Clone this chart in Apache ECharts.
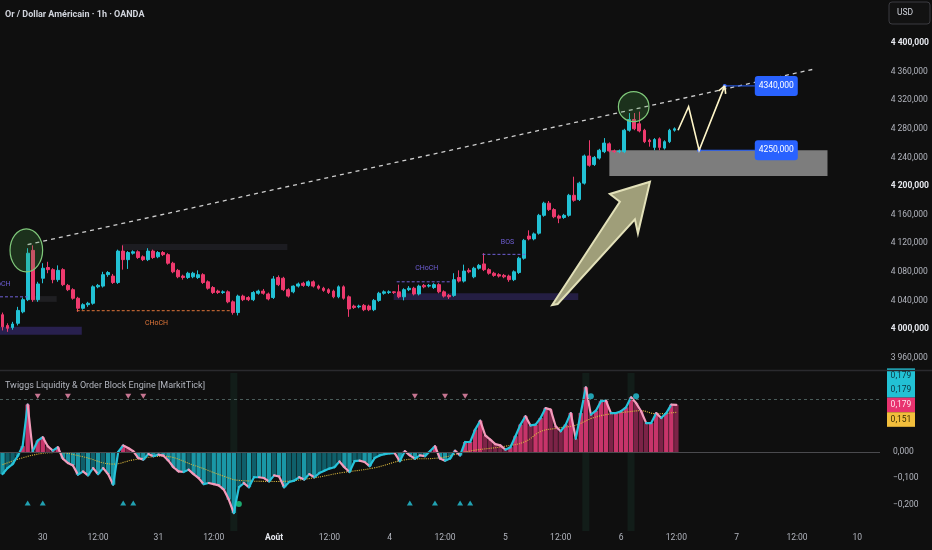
<!DOCTYPE html>
<html><head><meta charset="utf-8">
<script src="https://cdn.jsdelivr.net/npm/echarts/dist/echarts.min.js"></script>
<style>html,body{margin:0;padding:0;background:#0f0f0f;}#c{width:932px;height:550px;}</style>
</head><body><div id="c"></div>
<script>
// ---------- data ----------
const slotCount = 175;
const tickIndex = [8,19,31,42,54,65,77,88,100,111,123,134,146,158,170];
const tickText = ['30','12:00','31','12:00','Août','12:00','4','12:00','5','12:00','6','12:00','7','12:00','10'];

const opens = [4020,4005,4002,4008,4024,4041,4110,4041,4071,4086, 4083,4069,4083,4061,4055,4043,4029,4034,4036,4059,
 4060,4076,4074,4065,4109,4097,4106,4108,4101,4097, 4109,4101,4107,4104,4092,4082,4074,4072,4073,4072,
 4076,4066,4058,4053,4051,4052,4038,4023,4046,4044, 4041,4050,4053,4049,4044,4072,4071,4055,4052,4060,
 4064,4061,4066,4060,4057,4055,4053,4045,4059,4045, 4032,4031,4033,4032,4027,4040,4050,4051,4052,4052,
 4045,4055,4057,4049,4061,4060,4058,4062,4052,4047, 4047,4072,4067,4082,4073,4085,4091,4083,4078,4076,
 4075,4074,4069,4079,4099,4130,4126,4134,4159,4176, 4167,4158,4156,4159,4187,4181,4204,4242,4230,4239,
 4248,4259,4249,4248,4248,4278,4293,4287,4278,4264, 4254,4266,4253,4262,4278];
const closes = [4003,4001,4007,4026,4041,4106,4041,4063,4085,4083, 4069,4082,4062,4055,4043,4029,4034,4036,4059,4061,
 4076,4079,4065,4109,4097,4107,4108,4100,4097,4109, 4100,4107,4104,4092,4080,4073,4072,4078,4078,4076,
 4065,4057,4051,4051,4052,4038,4023,4046,4041,4041, 4051,4053,4050,4042,4070,4062,4055,4046,4060,4063,
 4061,4066,4060,4057,4054,4051,4045,4059,4043,4028, 4030,4032,4027,4027,4040,4050,4052,4052,4051,4045,
 4055,4057,4049,4060,4059,4061,4062,4052,4046,4045, 4069,4067,4081,4080,4085,4089,4083,4078,4075,4074,
 4073,4069,4080,4099,4124,4126,4133,4159,4176,4167, 4157,4155,4159,4187,4180,4204,4242,4229,4240,4250,
 4260,4249,4248,4249,4278,4293,4280,4277,4262,4262, 4265,4254,4262,4278,4280];
const lows = [3998,3996,3999,4005,4022,4039,4038,4038,4064,4078, 4064,4066,4060,4053,4041,4024,4027,4031,4034,4057,
 4058,4073,4063,4063,4083,4084,4104,4098,4095,4095, 4098,4099,4102,4090,4078,4071,4069,4070,4071,4070,
 4063,4055,4049,4049,4049,4036,4020,4019,4039,4039, 4039,4048,4048,4040,4042,4060,4053,4044,4050,4058,
 4059,4059,4058,4055,4052,4049,4043,4043,4041,4017, 4028,4029,4025,4025,4025,4038,4048,4049,4049,4043,
 4040,4053,4047,4047,4057,4058,4056,4050,4044,4042, 4045,4065,4065,4078,4071,4083,4081,4076,4073,4072,
 4071,4066,4067,4077,4097,4124,4124,4132,4157,4165, 4155,4148,4154,4157,4178,4179,4202,4227,4228,4237,
 4246,4247,4246,4246,4246,4276,4278,4275,4260,4255, 4250,4250,4251,4260,4276];
const highs = [4023,4008,4010,4031,4044,4113,4117,4066,4092,4094, 4085,4089,4085,4063,4057,4045,4036,4038,4061,4063,
 4080,4081,4077,4111,4117,4109,4110,4110,4103,4113, 4111,4109,4109,4106,4094,4084,4076,4080,4080,4082,
 4078,4068,4060,4055,4054,4054,4040,4048,4048,4046, 4053,4055,4056,4051,4074,4075,4073,4057,4061,4065,
 4066,4068,4068,4062,4059,4057,4055,4061,4061,4047, 4034,4034,4035,4034,4042,4052,4054,4054,4053,4062,
 4057,4060,4059,4062,4063,4063,4064,4064,4054,4049, 4078,4082,4090,4085,4087,4091,4106,4085,4080,4078,
 4077,4076,4082,4101,4126,4138,4135,4161,4178,4179, 4169,4160,4161,4189,4213,4206,4244,4264,4242,4252,
 4267,4261,4251,4251,4280,4302,4302,4304,4280,4266, 4267,4268,4264,4280,4282];

const oscillator = [-0.084,-0.061,-0.046,-0.016,0.022,0.180,0.003,0.043,0.056,0.022,
 0.005,0.018,-0.025,-0.042,-0.051,-0.086,-0.074,-0.089,-0.061,-0.084,
 -0.061,-0.084,-0.124,0.000,0.025,0.015,0.003,-0.023,-0.029,-0.008,
 -0.016,-0.010,-0.014,-0.033,-0.058,-0.074,-0.076,-0.067,-0.084,-0.099,
 -0.122,-0.118,-0.122,-0.127,-0.143,-0.181,-0.232,-0.134,-0.118,-0.134,
 -0.096,-0.096,-0.099,-0.112,-0.089,-0.093,-0.134,-0.114,-0.109,-0.096,
 -0.105,-0.084,-0.096,-0.080,-0.071,-0.063,-0.058,-0.036,-0.058,-0.076,
 -0.035,-0.033,-0.038,-0.054,-0.023,-0.013,-0.008,-0.005,-0.004,-0.035,
 0.003,-0.013,-0.025,-0.013,-0.016,0.003,0.022,-0.025,-0.033,-0.025,
 0.005,-0.013,0.038,0.038,0.085,0.119,0.063,0.047,0.030,0.025,
 0.009,0.018,0.060,0.104,0.136,0.101,0.104,0.129,0.167,0.161,
 0.098,0.079,0.104,0.148,0.051,0.148,0.246,0.142,0.157,0.193,
 0.195,0.148,0.148,0.155,0.170,0.208,0.186,0.155,0.110,0.110,
 0.148,0.129,0.148,0.180,0.179];
const signalPts = [[0,-0.048],[6,-0.012],[11,-0.002],[16,-0.018],[22,-0.046],[26,-0.03],[32,-0.016],[38,-0.05],
 [44,-0.092],[47,-0.108],[55,-0.112],[62,-0.098],[67,-0.08],[74,-0.06],[80,-0.03],[87,-0.022],[93,0.004],
 [100,0.022],[104,0.04],[107,0.078],[110,0.09],[114,0.102],[117,0.127],[120,0.142],[124,0.152],[127,0.157],
 [130,0.145],[134,0.151]];
const sellMarks = [7,13,25,28,82,88,92];
const buyMarks = [5,8,24,26,81,86,91,93];
const topDots = [117,126];
const bottomDots = [47];
const highlightBands = [[45.3,46.7],[115.3,116.7],[124.3,125.7]];
const lastValues = [0.179,0.179,0.179,0.151];

// drawings (bar index, price)
const trendLine = [[5,4118],[161.5,4363]];
const demandZone = [121,164.5,4250,4214];
const obLeft = [-0.5,15.8,4003,3992];
const obMid = [78,114.8,4050,4040.5];
const obTop = [23.8,56.8,4119,4110.5];
const obSmall = [6.1,10.8,4046,4038];
const structLines = [[-0.5,5,4045],[14.8,45.8,4025.6],[78.6,89.6,4066],[95.7,104.5,4104.4]];
const structText = ['CHoCH','CHoCH','CHoCH','BOS'];
const structTextPos = [[1.6,4063],[30.7,4008],[84.6,4085],[100.7,4122]];
const ellipses = [[1.5,8,4140,4080],[122.8,128.9,4332,4290]];
const bigArrow = [[109.6,4033.5],[123.1,4178],[121.1,4188.8],[129.1,4205.9],[126.7,4133.8],[126.1,4153.4],[110.7,4034.9]];
const projection = [[134.7,4278],[136.8,4311],[138.9,4250],[144,4340]];
const targetPrices = [4340,4250];
const targetStart = [144,138.9];
const targetLabelAt = 150;

// ---------- chart ----------
const FONT = 'Roboto, "Noto Sans", sans-serif';
const UP = '#22c1d4', DOWN = '#ee3a6e';
const categories = Array.from({length: slotCount}, (_, i) => String(i));
const candles = opens.map((o, i) => [o, closes[i], lows[i], highs[i]]);
const chart = echarts.init(document.getElementById('c'));

function fmtPrice(v) {
  if (v > 4420) return '';
  const s = Math.round(v);
  const txt = Math.floor(s / 1000) + ' ' + String(s % 1000).padStart(3, '0') + ',000';
  return (s % 200 === 0) ? '{b|' + txt + '}' : txt;
}
function fmtOsc(v) {
  if (v > 0.05 || v < -0.25) return '';
  if (Math.abs(v) < 1e-9) return '0,000';
  return (v < 0 ? '\u2212' : '') + Math.abs(v).toFixed(3).replace('.', ',');
}

const zoneList = [demandZone, obLeft, obMid, obTop, obSmall];
const zoneFill = ['rgba(150,150,150,0.82)','rgba(85,65,190,0.36)','rgba(85,65,190,0.3)','rgba(90,90,115,0.18)','rgba(90,90,105,0.22)'];
const structColor = ['#6f5fd6','#e0763a','#6f5fd6','#6f5fd6'];

function renderZones(params, api) {
  const ch = zoneList.map((z, k) => {
    const a = api.coord([z[0], z[2]]), b = api.coord([z[1], z[3]]);
    return {type:'rect', shape:{x:a[0], y:a[1], width:b[0]-a[0], height:b[1]-a[1]}, style:{fill: zoneFill[k]}};
  });
  return {type:'group', children: ch};
}
function renderStructure(params, api) {
  const ch = [];
  structLines.forEach((l, k) => {
    const a = api.coord([l[0], l[2]]), b = api.coord([l[1], l[2]]);
    ch.push({type:'line', shape:{x1:a[0], y1:a[1], x2:b[0], y2:b[1]}, style:{stroke: structColor[k], lineWidth:1, lineDash:[3,2]}});
  });
  structText.forEach((t, k) => {
    const p = api.coord(structTextPos[k]);
    ch.push({type:'text', x:p[0], y:p[1], style:{text:t, fill: structColor[k], fontSize:7, fontFamily:FONT, align: k === 0 ? 'right' : 'center', verticalAlign:'middle'}});
  });
  return {type:'group', children: ch};
}
function renderMarks(params, api) {
  const ch = [];
  ellipses.forEach(e => {
    const a = api.coord([e[0], e[2]]), b = api.coord([e[1], e[3]]);
    ch.push({type:'ellipse', shape:{cx:(a[0]+b[0])/2, cy:(a[1]+b[1])/2, rx:(b[0]-a[0])/2, ry:(b[1]-a[1])/2},
      style:{fill:'rgba(70,160,70,0.24)', stroke:'#7fc87a', lineWidth:1.2}});
  });
  ch.push({type:'polygon', shape:{points: bigArrow.map(p => api.coord(p))},
    style:{fill:'rgba(185,183,140,0.85)', stroke:'#e2e0b8', lineWidth:2, lineJoin:'miter'}});
  targetPrices.forEach((p, k) => {
    const a = api.coord([targetStart[k], p]), b = api.coord([targetLabelAt, p]);
    ch.push({type:'line', shape:{x1:a[0], y1:a[1], x2:b[0], y2:b[1]}, style:{stroke:'#2962ff', lineWidth:1}});
    ch.push({type:'circle', shape:{cx:a[0], cy:a[1], r:2}, style:{fill:'#3d6cff'}});
    ch.push({type:'rect', shape:{x:b[0], y:b[1]-10, width:43, height:20, r:3}, style:{fill:'#2962ff'}});
    ch.push({type:'text', x:b[0]+21.5, y:b[1], style:{text: p + ',000', fill:'#ffffff', fontSize:8.5, fontFamily:FONT, align:'center', verticalAlign:'middle'}});
  });
  const pts = projection.map(p => api.coord(p));
  ch.push({type:'polyline', shape:{points: pts}, style:{stroke:'#fff6c8', lineWidth:1.6, fill:null}});
  const tip = pts[pts.length-1], prev = pts[pts.length-2];
  const dx = tip[0]-prev[0], dy = tip[1]-prev[1], L = Math.hypot(dx, dy);
  const ux = dx/L, uy = dy/L, hl = 8, ang = 0.5;
  [ang, -ang].forEach(t => {
    const rx = ux*Math.cos(t) - uy*Math.sin(t), ry = ux*Math.sin(t) + uy*Math.cos(t);
    ch.push({type:'line', shape:{x1:tip[0], y1:tip[1], x2:tip[0]-rx*hl, y2:tip[1]-ry*hl}, style:{stroke:'#fff6c8', lineWidth:1.6}});
  });
  return {type:'group', children: ch};
}
function renderBands(params, api) {
  const ch = highlightBands.map(b => {
    const a = api.coord([b[0], 0.3]), c = api.coord([b[1], -0.3]);
    return {type:'rect', shape:{x:a[0], y:a[1], width:c[0]-a[0], height:c[1]-a[1]}, style:{fill:'rgba(40,120,90,0.13)'}};
  });
  return {type:'group', children: ch};
}
function renderOsc(params, api) {
  const ch = [];
  for (let i = 1; i < oscillator.length; i++) {
    const a = api.coord([i-1, oscillator[i-1]]), b = api.coord([i, oscillator[i]]);
    const rising = oscillator[i] >= oscillator[i-1];
    ch.push({type:'line', shape:{x1:a[0], y1:a[1], x2:b[0], y2:b[1]},
      style:{stroke: rising ? '#27c3da' : '#f39bbb', lineWidth:2.2, lineCap:'round'}});
  }
  return {type:'group', children: ch};
}
function renderLastBoxes(params, api) {
  const ch = [];
  const base = api.coord([slotCount-0.5, lastValues[2]]);
  const x0 = base[0] + 7, h = 14.6;
  const fills = ['#22c1d4','#22c1d4','#e8336f','#f2be3c'];
  const txt = ['#0d3540','#0d3540','#ffe3ec','#3a2c00'];
  const offs = [-2,-1,0,1];
  lastValues.forEach((v, k) => {
    const cy = base[1] + offs[k]*h;
    ch.push({type:'rect', shape:{x:x0, y:cy-h/2, width:28, height:h}, style:{fill: fills[k]}});
    ch.push({type:'text', x:x0+14, y:cy, style:{text: v.toFixed(3).replace('.', ','), fill: txt[k], fontSize:8.5, fontFamily:FONT, align:'center', verticalAlign:'middle'}});
  });
  return {type:'group', children: ch};
}

const option = {
  backgroundColor: '#0f0f0f',
  animation: false,
  title: [
    {text:'Or / Dollar Américain · 1h · OANDA', left:5, top:10, padding:0,
     textStyle:{color:'#d1d4dc', fontSize:9, fontWeight:'bold', fontFamily:FONT}},
    {text:'Twiggs Liquidity & Order Block Engine [MarkitTick]', left:5, top:381, padding:0,
     textStyle:{color:'#b2b5be', fontSize:9, fontWeight:'normal', fontFamily:FONT}}
  ],
  graphic: [
    {type:'line', shape:{x1:0, y1:370.5, x2:932, y2:370.5}, style:{stroke:'#2a2a2e', lineWidth:1.5}, silent:true, z:100},
    {type:'rect', shape:{x:889, y:2, width:41, height:22, r:3}, style:{fill:'#121212', stroke:'#3b3b40', lineWidth:1}, silent:true},
    {type:'text', x:897, y:13, style:{text:'USD', fill:'#d1d4dc', fontSize:8.5, fontFamily:FONT, verticalAlign:'middle'}, silent:true}
  ],
  grid: [
    {left:0, width:880, top:14.4, height:343.2, containLabel:false},
    {left:0, width:880, top:373.1, height:157.8, containLabel:false}
  ],
  xAxis: [
    {gridIndex:0, type:'category', data:categories, boundaryGap:true,
     axisLine:{show:false}, axisTick:{show:false}, axisLabel:{show:false}, splitLine:{show:false}},
    {gridIndex:1, type:'category', data:categories, boundaryGap:true,
     axisLine:{show:false}, axisTick:{show:false}, splitLine:{show:false},
     axisLabel:{show:true, margin:2, color:'#b2b5be', fontSize:8.5, fontFamily:FONT,
       interval:(idx) => tickIndex.indexOf(idx) >= 0,
       formatter:(v) => { const k = tickIndex.indexOf(+v); if (k < 0) return ''; return tickText[k] === 'Août' ? '{b|Août}' : tickText[k]; },
       rich:{b:{color:'#e6e8ee', fontWeight:'bold', fontSize:8.5, fontFamily:FONT}}}},
    {gridIndex:0, type:'value', min:-0.5, max:slotCount-0.5, show:false},
    {gridIndex:1, type:'value', min:-0.5, max:slotCount-0.5, show:false}
  ],
  yAxis: [
    {gridIndex:0, type:'value', position:'right', min:3960, max:4440, interval:40, scale:true,
     axisLine:{show:false}, axisTick:{show:false}, splitLine:{show:false},
     axisLabel:{margin:13, color:'#b2b5be', fontSize:8.5, fontFamily:FONT, formatter:fmtPrice,
       rich:{b:{color:'#e6e8ee', fontWeight:'bold', fontSize:8.5, fontFamily:FONT}}}},
    {gridIndex:1, type:'value', position:'right', min:-0.3, max:0.3, interval:0.1,
     axisLine:{show:false}, axisTick:{show:false}, splitLine:{show:false},
     axisLabel:{margin:13, color:'#b2b5be', fontSize:8.5, fontFamily:FONT, formatter:fmtOsc}}
  ],
  series: [
    {type:'custom', name:'zones', xAxisIndex:2, yAxisIndex:0, z:1, silent:true, data:[[0,4000]], renderItem:renderZones},
    {type:'candlestick', name:'XAUUSD', xAxisIndex:0, yAxisIndex:0, z:3, barWidth:3.4, data:candles,
     itemStyle:{color:UP, color0:DOWN, borderColor:UP, borderColor0:DOWN, borderWidth:1}},
    {type:'line', name:'trend', xAxisIndex:2, yAxisIndex:0, z:4, data:trendLine, symbol:'none', silent:true,
     lineStyle:{color:'#cfcfcf', width:1.3, type:[4,4]}},
    {type:'custom', name:'structure', xAxisIndex:2, yAxisIndex:0, z:4, silent:true, data:[[0,4000]], renderItem:renderStructure},
    {type:'custom', name:'marks', xAxisIndex:2, yAxisIndex:0, z:5, silent:true, data:[[0,4000]], renderItem:renderMarks},

    {type:'custom', name:'bands', xAxisIndex:3, yAxisIndex:1, z:1, silent:true, data:[[0,0]], renderItem:renderBands},
    {type:'bar', name:'hist', xAxisIndex:1, yAxisIndex:1, z:2, barCategoryGap:'12%', data:oscillator, silent:true,
     itemStyle:{color:(p) => {
       const v = oscillator[p.dataIndex], pv = p.dataIndex > 0 ? oscillator[p.dataIndex-1] : v;
       if (v >= 0) return v >= pv ? '#c7346a' : '#7c2347';
       return v <= pv ? '#1a97a6' : '#0f5f6a';
     }},
     markLine:{silent:true, symbol:'none', label:{show:false}, data:[
       {yAxis:0, lineStyle:{color:'#4a4a4e', type:'solid', width:1}},
       {yAxis:0.2, lineStyle:{color:'#4a5c5a', type:[3,3], width:1}}
     ]}},
    {type:'line', name:'signal', xAxisIndex:3, yAxisIndex:1, z:3, data:signalPts, symbol:'none', smooth:0.4, silent:true,
     lineStyle:{color:'#d6b43c', width:1.1, type:'dotted'}},
    {type:'custom', name:'osc', xAxisIndex:1, yAxisIndex:1, z:4, silent:true, data:[[0,0]], renderItem:renderOsc},
    {type:'scatter', name:'sell', xAxisIndex:1, yAxisIndex:1, z:5, silent:true, symbol:'triangle', symbolRotate:180, symbolSize:[6,5],
     itemStyle:{color:'#f48fb1'}, data:sellMarks.map(i => [i, 0.212])},
    {type:'scatter', name:'buy', xAxisIndex:1, yAxisIndex:1, z:5, silent:true, symbol:'triangle', symbolSize:[6,5],
     itemStyle:{color:'#26c6da'}, data:buyMarks.map(i => [i, -0.194])},
    {type:'scatter', name:'topDot', xAxisIndex:1, yAxisIndex:1, z:5, silent:true, symbol:'circle', symbolSize:6,
     itemStyle:{color:'#26c6da'}, data:topDots.map(i => [i, 0.212])},
    {type:'scatter', name:'botDot', xAxisIndex:1, yAxisIndex:1, z:5, silent:true, symbol:'circle', symbolSize:6,
     itemStyle:{color:'#1fd18a'}, data:bottomDots.map(i => [i, -0.198])},
    {type:'custom', name:'last', xAxisIndex:3, yAxisIndex:1, z:6, silent:true, data:[[0,0]], renderItem:renderLastBoxes}
  ]
};
chart.setOption(option);
</script>
</body></html>
